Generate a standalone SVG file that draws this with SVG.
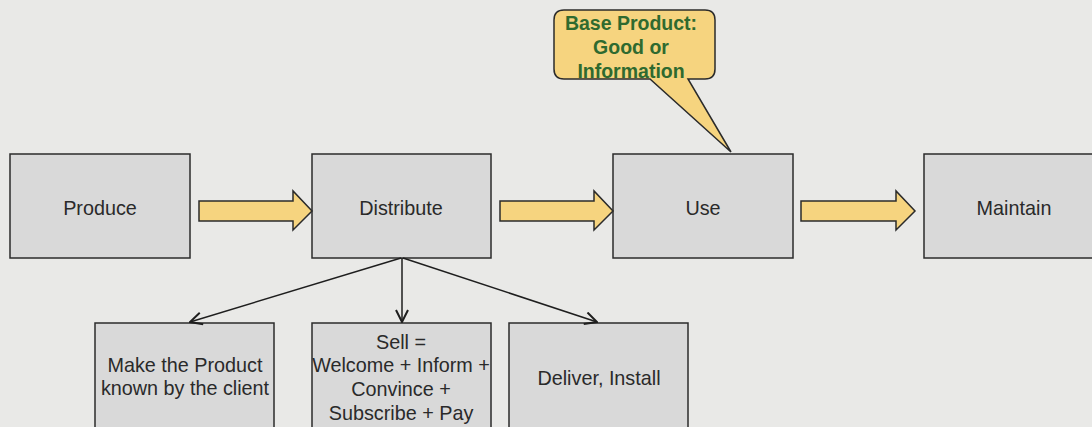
<svg xmlns="http://www.w3.org/2000/svg" width="1092" height="427" viewBox="0 0 1092 427">
<defs>
<style>
.box{fill:#d9d9d9;stroke:#2b2b2b;stroke-width:1.5}
.t{font-family:"Liberation Sans",Arial,sans-serif;font-size:19.8px;fill:#2a2a2a;text-anchor:middle}
.fat{fill:#f6d47f;stroke:#2b2b2b;stroke-width:1.5;stroke-linejoin:miter}
.ln{fill:none;stroke:#1e1e1e;stroke-width:1.5}
.ct{font-family:"Liberation Sans",Arial,sans-serif;font-size:19.5px;font-weight:bold;fill:#2f6a2f;text-anchor:middle}
</style>
<marker id="open" viewBox="0 0 14 14" refX="13" refY="7" markerWidth="14" markerHeight="14" markerUnits="userSpaceOnUse" orient="auto">
<polyline points="1,1 13,7 1,13" fill="none" stroke="#1e1e1e" stroke-width="2"/>
</marker>
</defs>
<rect width="1092" height="427" fill="#e9e9e7"/>
<g id="produce"><rect class="box" x="10" y="154" width="180" height="104"/><text class="t" x="100" y="215">Produce</text></g>
<g id="distribute"><rect class="box" x="312" y="154" width="179" height="104"/><text class="t" x="401" y="215">Distribute</text></g>
<g id="use"><rect class="box" x="613" y="154" width="180" height="104"/><text class="t" x="703" y="215">Use</text></g>
<g id="maintain"><rect class="box" x="924" y="154" width="180" height="104"/><text class="t" x="1014" y="215">Maintain</text></g>
<g id="make-known"><rect class="box" x="95" y="323" width="179" height="110"/><text class="t" x="185" y="372">Make the Product</text><text class="t" x="185" y="395">known by the client</text></g>
<g id="sell"><rect class="box" x="312" y="323" width="179" height="110"/><text class="t" x="401" y="349">Sell =</text><text class="t" x="401" y="372">Welcome + Inform +</text><text class="t" x="401" y="396">Convince +</text><text class="t" x="401" y="420">Subscribe + Pay</text></g>
<g id="deliver"><rect class="box" x="509" y="323" width="179" height="110"/><text class="t" x="599" y="385">Deliver, Install</text></g>
<g id="callout"><path class="fat" d="M564,10 H705 Q715,10 715,20 V69 Q715,79 705,79 H688 L731,152 L650,79 H564 Q554,79 554,69 V20 Q554,10 564,10 Z"/><text class="ct" x="631" y="30">Base Product:</text><text class="ct" x="631" y="54">Good or</text><text class="ct" x="631" y="78">Information</text></g>
<g id="connectors">
<path class="fat" d="M199,201 H293 V191 L312,211 L293,230 V221 H199 Z"/>
<path class="fat" d="M500,201 H594 V191 L613,211 L594,230 V221 H500 Z"/>
<path class="fat" d="M801,201 H896 V191 L915,211 L896,230 V221 H801 Z"/>
<line class="ln" x1="401" y1="258" x2="190" y2="322" marker-end="url(#open)"/>
<line class="ln" x1="402" y1="258" x2="402" y2="322" marker-end="url(#open)"/>
<line class="ln" x1="403" y1="258" x2="597" y2="322" marker-end="url(#open)"/>
</g>
</svg>
